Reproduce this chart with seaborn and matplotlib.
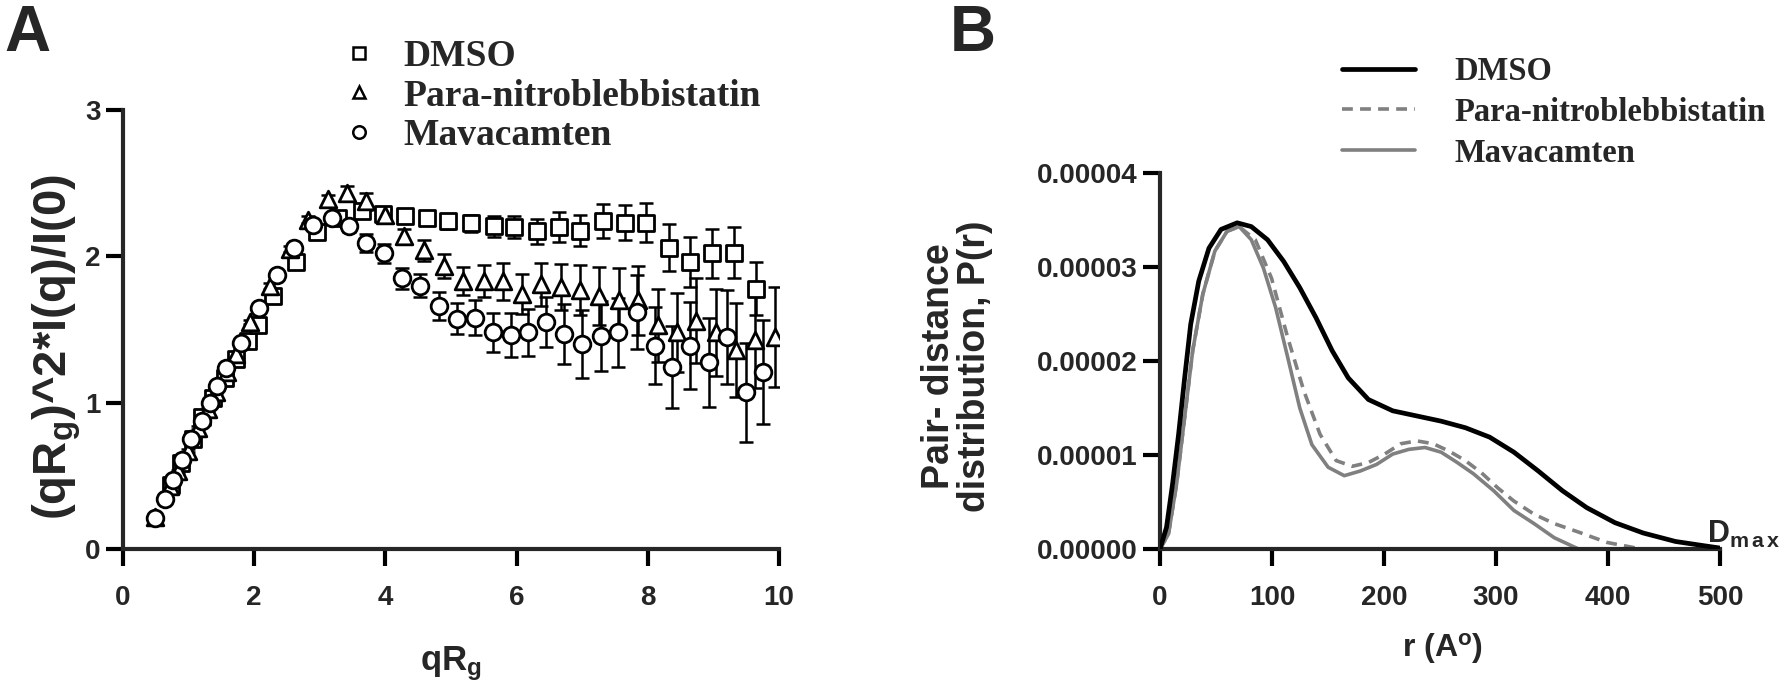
import matplotlib
matplotlib.use("Agg")
import matplotlib.pyplot as plt
from matplotlib.lines import Line2D
import numpy as np
import pandas as pd
import seaborn as sns

# ---- Panel A: dimensionless Kratky (qRg)^2*I(q)/I(0) ----
x_dmso = [0.73, 0.89, 1.06, 1.21, 1.37, 1.55, 1.72, 1.90, 2.06, 2.29, 2.63, 2.95, 3.28, 3.64, 3.97,
          4.30, 4.63, 4.96, 5.30, 5.65, 5.96, 6.31, 6.65, 6.97, 7.31, 7.65, 7.98, 8.32, 8.65, 8.98,
          9.31, 9.65]
y_dmso = [0.44, 0.59, 0.754, 0.90, 1.03, 1.17, 1.30, 1.42, 1.53, 1.73, 1.96, 2.165, 2.26, 2.31, 2.29,
          2.275, 2.26, 2.24, 2.225, 2.205, 2.20, 2.17, 2.20, 2.175, 2.24, 2.23, 2.23, 2.06, 1.96, 2.02,
          2.025, 1.78]
e_dmso = [0.01, 0.01, 0.01, 0.01, 0.01, 0.01, 0.01, 0.01, 0.01, 0.015, 0.02, 0.02, 0.025, 0.03, 0.03,
          0.035, 0.04, 0.05, 0.06, 0.07, 0.077, 0.086, 0.1, 0.107, 0.115, 0.12, 0.135, 0.158, 0.17, 0.167,
          0.174, 0.183]

x_pnb = [0.49, 0.71, 0.84, 0.99, 1.15, 1.30, 1.42, 1.58, 1.73, 1.93, 2.24, 2.54, 2.82, 3.12, 3.41,
         3.70, 4.00, 4.28, 4.59, 4.90, 5.19, 5.50, 5.79, 6.08, 6.37, 6.68, 6.97, 7.26, 7.56, 7.85,
         8.16, 8.45, 8.74, 9.04, 9.35, 9.64, 9.94]
y_pnb = [0.22, 0.43, 0.53, 0.67, 0.83, 0.955, 1.075, 1.21, 1.33, 1.55, 1.80, 2.05, 2.25, 2.39, 2.43,
         2.375, 2.28, 2.14, 2.04, 1.935, 1.83, 1.83, 1.83, 1.745, 1.81, 1.79, 1.77, 1.73, 1.70, 1.70,
         1.53, 1.48, 1.56, 1.48, 1.36, 1.43, 1.45]
e_pnb = [0.01, 0.01, 0.01, 0.01, 0.01, 0.01, 0.01, 0.01, 0.015, 0.015, 0.02, 0.02, 0.025, 0.03, 0.05,
         0.06, 0.045, 0.05, 0.07, 0.08, 0.097, 0.11, 0.126, 0.137, 0.147, 0.16, 0.17, 0.2, 0.22, 0.235,
         0.25, 0.27, 0.29, 0.3, 0.32, 0.33, 0.34]

x_mava = [0.49, 0.64, 0.76, 0.90, 1.04, 1.20, 1.32, 1.44, 1.57, 1.80, 2.07, 2.34, 2.61, 2.89, 3.18,
          3.44, 3.70, 3.98, 4.26, 4.53, 4.81, 5.09, 5.36, 5.64, 5.92, 6.18, 6.45, 6.73, 7.00, 7.28,
          7.55, 7.83, 8.11, 8.37, 8.65, 8.93, 9.21, 9.49, 9.76]
y_mava = [0.215, 0.34, 0.47, 0.61, 0.754, 0.875, 1.00, 1.115, 1.235, 1.41, 1.65, 1.87, 2.06, 2.215, 2.26,
          2.21, 2.09, 2.02, 1.85, 1.80, 1.66, 1.575, 1.58, 1.48, 1.46, 1.48, 1.55, 1.47, 1.40, 1.455,
          1.48, 1.62, 1.39, 1.245, 1.39, 1.275, 1.45, 1.07, 1.21]
e_mava = [0.01, 0.01, 0.01, 0.01, 0.01, 0.01, 0.01, 0.01, 0.015, 0.015, 0.02, 0.02, 0.025, 0.03, 0.03,
          0.045, 0.062, 0.065, 0.07, 0.077, 0.095, 0.106, 0.12, 0.135, 0.15, 0.163, 0.17, 0.206, 0.23, 0.237,
          0.238, 0.25, 0.263, 0.28, 0.295, 0.307, 0.32, 0.338, 0.353]

# ---- Panel B: pair-distance distribution P(r), units of 1e-5 ----
r_dmso = [0, 5.8, 11.2, 16.6, 22, 27.4, 34.6, 43.7, 54.5, 68.9, 81.5, 96, 110.4, 124.8, 139.3, 153.7,
          168.1, 186.1, 207.8, 229.4, 251, 272.7, 294.3, 316, 337.7, 359.3, 381, 406.2, 431.5, 460.3,
          485.6, 500]
p_dmso = [0, 0.23, 0.69, 1.22, 1.82, 2.39, 2.85, 3.20, 3.40, 3.47, 3.43, 3.29, 3.06, 2.78, 2.46, 2.11,
          1.82, 1.59, 1.47, 1.415, 1.36, 1.29, 1.19, 1.03, 0.83, 0.62, 0.44, 0.28, 0.17, 0.08,
          0.035, 0.01]

r_pnb = [0, 7.6, 14.8, 22, 29.2, 38.2, 49, 59.9, 70.7, 85.1, 99.6, 114, 128.5, 142.9, 157.3, 171.7,
         186.1, 200.6, 215, 229.4, 243.9, 258.3, 272.7, 287.1, 301.6, 316, 334, 352, 373.7, 399, 429.7]
p_pnb = [0, 0.16, 0.69, 1.40, 2.11, 2.71, 3.17, 3.38, 3.43, 3.29, 2.88, 2.25, 1.68, 1.22, 0.94, 0.88,
         0.92, 1.01, 1.12, 1.15, 1.12, 1.04, 0.94, 0.81, 0.65, 0.51, 0.37, 0.27, 0.18, 0.07, 0]

r_mava = [0, 7.6, 14.8, 22, 29.2, 38.2, 49, 59.9, 70.7, 81.5, 92.3, 103.2, 114, 124.8, 135.6, 150.1,
          164.5, 178.9, 193.4, 207.8, 222.2, 236.6, 251, 265.4, 279.9, 297.9, 316, 334, 352, 373.7]
p_mava = [0, 0.16, 0.69, 1.40, 2.11, 2.71, 3.17, 3.38, 3.43, 3.29, 2.99, 2.57, 2.04, 1.50, 1.11, 0.87,
          0.78, 0.83, 0.90, 1.01, 1.06, 1.08, 1.03, 0.92, 0.80, 0.62, 0.41, 0.27, 0.12, 0]

labels = ["DMSO", "Para-nitroblebbistatin", "Mavacamten"]

sns.set_style("ticks")
plt.rcParams["font.family"] = ["Liberation Sans", "DejaVu Sans"]
plt.rcParams["font.weight"] = "bold"
plt.rcParams["mathtext.fontset"] = "custom"
plt.rcParams["mathtext.rm"] = "Liberation Sans:bold"
plt.rcParams["mathtext.it"] = "Liberation Sans:bold"
plt.rcParams["mathtext.bf"] = "Liberation Sans:bold"
plt.rcParams["xtick.direction"] = "out"
plt.rcParams["ytick.direction"] = "out"

W, H = 1784, 695
fig = plt.figure(figsize=(W / 100, H / 100), dpi=100)

def fx(px):
    return px / W

def fy(py):
    return 1 - py / H

axA = fig.add_axes([fx(123), fy(549), fx(779 - 123), (549 - 110) / H])
axB = fig.add_axes([fx(1160), fy(549), fx(1720 - 1160), (549 - 173) / H])

# panel A
series_a = [(x_dmso, y_dmso, e_dmso, "s", 11), (x_pnb, y_pnb, e_pnb, "^", 12), (x_mava, y_mava, e_mava, "o", 12)]
for (xs, ys, es, mk, ms), lab in zip(series_a, labels):
    axA.errorbar(xs, ys, yerr=es, fmt="none", ecolor="black", elinewidth=1.8, capsize=5, capthick=1.8, zorder=2)
    d = pd.DataFrame({"x": xs, "y": ys})
    sns.scatterplot(data=d, x="x", y="y", ax=axA, marker=mk, s=ms ** 2, facecolor="white",
                    edgecolor="black", linewidth=2, zorder=3, legend=False)

axA.set_xlim(0, 10)
axA.set_ylim(0, 3)
axA.set_xticks([0, 2, 4, 6, 8, 10])
axA.set_yticks([0, 1, 2, 3])
axA.set_xlabel("")
axA.set_ylabel("")

# panel B
for rs, ps, lab, col, ls, lw in [(r_dmso, p_dmso, labels[0], "black", "-", 3.4),
                                 (r_pnb, p_pnb, labels[1], "#808080", (0, (3, 2)), 2.6),
                                 (r_mava, p_mava, labels[2], "#808080", "-", 2.6)]:
    d = pd.DataFrame({"r": rs, "p": np.array(ps) * 1e-5})
    sns.lineplot(data=d, x="r", y="p", ax=axB, color=col, linestyle=ls, linewidth=lw,
                 estimator=None, sort=False, zorder=3 if col == "black" else 2)

axB.set_xlim(0, 500)
axB.set_ylim(0, 4e-5)
axB.set_xticks([0, 100, 200, 300, 400, 500])
axB.set_yticks([0, 1e-5, 2e-5, 3e-5, 4e-5])
axB.set_yticklabels(["0.00000", "0.00001", "0.00002", "0.00003", "0.00004"])
axB.set_xlabel("")
axB.set_ylabel("")
axB.text(488, 0.07e-5, r"D$_\mathrm{m\,a\,x}$", fontsize=22, fontweight="bold", ha="left", va="baseline",
         clip_on=False)

for ax in (axA, axB):
    sns.despine(ax=ax)
    for s in ("left", "bottom"):
        ax.spines[s].set_linewidth(3)
    ax.tick_params(axis="both", direction="out", width=3, length=12, labelsize=20, color="black")
    ax.tick_params(axis="x", pad=14)
    ax.tick_params(axis="y", pad=4)
    for t in ax.get_xticklabels() + ax.get_yticklabels():
        t.set_fontweight("bold")

# axis labels
fig.text(fx(57), fy(347), r"(qR$_\mathrm{g}$)^2*I(q)/I(0)", rotation=90, ha="center", va="center",
         fontsize=34, fontweight="bold")
fig.text(fx(451), fy(664), r"qR$_\mathrm{g}$", ha="center", va="center", fontsize=25, fontweight="bold")
fig.text(fx(957), fy(366), "Pair- distance\ndistribution, P(r)", rotation=90, ha="center", va="center",
         fontsize=27, fontweight="bold", linespacing=1.0)
fig.text(fx(1443), fy(648), r"r (A$^\mathrm{o}$)", ha="center", va="center", fontsize=23, fontweight="bold")

# panel letters
fig.text(fx(4), fy(4), "A", ha="left", va="top", fontsize=46, fontweight="bold")
fig.text(fx(950), fy(4), "B", ha="left", va="top", fontsize=46, fontweight="bold")

# legends
serif = {"family": ["Liberation Serif", "DejaVu Serif"], "weight": "bold"}
hA = [Line2D([], [], linestyle="none", marker=m, markersize=9, markerfacecolor="white",
             markeredgecolor="black", markeredgewidth=1.8) for m in ("s", "^", "o")]
legA = axA.legend(hA, labels, loc="upper left", bbox_to_anchor=(fx(336), fy(39)),
                  bbox_transform=fig.transFigure, frameon=False, borderpad=0, borderaxespad=0,
                  handlelength=1.2, handletextpad=0.6, labelspacing=0.12,
                  prop=dict(serif, size=27))

hB = [Line2D([], [], color="black", linewidth=3.4),
      Line2D([], [], color="#808080", linewidth=2.6, linestyle=(0, (3, 2))),
      Line2D([], [], color="#808080", linewidth=2.6)]
legB = axB.legend(hB, labels, loc="upper left", bbox_to_anchor=(fx(1342), fy(56)),
                  bbox_transform=fig.transFigure, frameon=False, borderpad=0, borderaxespad=0,
                  handlelength=2.25, handletextpad=1.2, labelspacing=0.3,
                  prop=dict(serif, size=23.5))

fig.savefig("out.png", dpi=100)
